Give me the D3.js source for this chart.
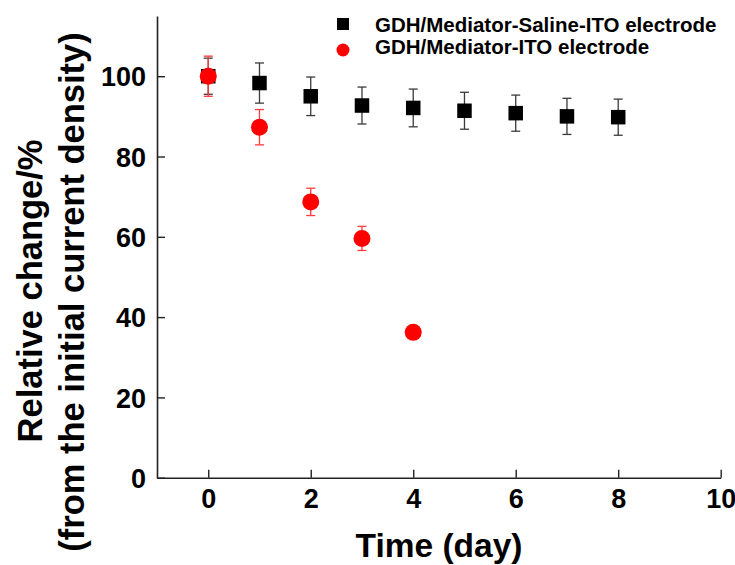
<!DOCTYPE html>
<html>
<head>
<meta charset="utf-8">
<script src="https://cdn.jsdelivr.net/npm/d3@7"></script>
<style>
  body { margin: 0; background: #fff; }
  svg text { font-family: "Liberation Sans", Arial, sans-serif; font-weight: bold; fill: #000; }
</style>
</head>
<body>
<div id="chart"></div>
<script>
// data
var salineDays = [0, 1, 2, 3, 4, 5, 6, 7, 8];
var salineValues = [100, 98.3, 95.0, 92.7, 92.1, 91.4, 90.8, 90.0, 89.8];
var salineErrors = [4.5, 5.0, 4.8, 4.6, 4.7, 4.6, 4.5, 4.5, 4.5];

var itoDays = [0, 1, 2, 3, 4];
var itoValues = [100, 87.3, 68.7, 59.6, 36.2];
var itoErrors = [5.0, 4.4, 3.4, 3.0, 1.0];

var xTicks = [0, 2, 4, 6, 8, 10];
var yTicks = [0, 20, 40, 60, 80, 100];

var legendLabels = ["GDH/Mediator-Saline-ITO electrode", "GDH/Mediator-ITO electrode"];

var width = 735, height = 565;
var margin = { left: 157, right: 14, top: 16, bottom: 88 };

var svg = d3.select("#chart").append("svg")
	.attr("width", width)
	.attr("height", height);

var x = d3.scaleLinear().domain([-1, 10]).range([margin.left, 720.7]);
var y = d3.scaleLinear().domain([0, 115]).range([height - margin.bottom + 0.7, margin.top]);

// axes
var xAxis = d3.axisBottom(x).tickValues(xTicks).tickSizeInner(-8).tickSizeOuter(0).tickPadding(0);
var yAxis = d3.axisLeft(y).tickValues(yTicks).tickSizeInner(-8).tickSizeOuter(0).tickPadding(0);

var gx = svg.append("g").attr("transform", "translate(0," + y(0) + ")").call(xAxis);
var gy = svg.append("g").attr("transform", "translate(" + x(-1) + ",0)").call(yAxis);

[gx, gy].forEach(function (g) {
	g.select(".domain").attr("stroke", "#222").attr("stroke-width", 1.6);
	g.selectAll(".tick line").attr("stroke", "#222").attr("stroke-width", 1.4);
	g.selectAll(".tick text").attr("font-size", 27).attr("fill", "#000");
});
gx.selectAll(".tick text").attr("y", 30.5).attr("dy", 0);
gy.selectAll(".tick text").attr("x", -11).attr("dy", "0.36em");

// axis titles
svg.append("text")
	.attr("x", 439).attr("y", 557)
	.attr("text-anchor", "middle")
	.attr("font-size", 33.5)
	.text("Time (day)");

svg.append("text")
	.attr("transform", "translate(42,291) rotate(-90)")
	.attr("text-anchor", "middle")
	.attr("font-size", 34.5)
	.text("Relative change/%");

svg.append("text")
	.attr("transform", "translate(84,292) rotate(-90)")
	.attr("text-anchor", "middle")
	.attr("font-size", 34.5)
	.text("(from the initial current density)");

// series
function drawErrors(days, values, errors, color) {
	var g = svg.append("g").attr("stroke", color).attr("stroke-width", 1.3);
	days.forEach(function (d, i) {
		var cx = x(d), lo = y(values[i] - errors[i]), hi = y(values[i] + errors[i]);
		g.append("line").attr("x1", cx).attr("x2", cx).attr("y1", lo).attr("y2", hi);
		g.append("line").attr("x1", cx - 4.5).attr("x2", cx + 4.5).attr("y1", lo).attr("y2", lo);
		g.append("line").attr("x1", cx - 4.5).attr("x2", cx + 4.5).attr("y1", hi).attr("y2", hi);
	});
}

var sq = 14.5;
drawErrors(salineDays, salineValues, salineErrors, "#3a3a3a");
svg.append("g").selectAll("rect")
	.data(salineDays)
	.join("rect")
	.attr("x", function (d) { return x(d) - sq / 2; })
	.attr("y", function (d, i) { return y(salineValues[i]) - sq / 2; })
	.attr("width", sq)
	.attr("height", sq)
	.attr("fill", "#000");

drawErrors(itoDays, itoValues, itoErrors, "#ff3b3b");
svg.append("g").selectAll("circle")
	.data(itoDays)
	.join("circle")
	.attr("cx", function (d) { return x(d); })
	.attr("cy", function (d, i) { return y(itoValues[i]); })
	.attr("r", 8.5)
	.attr("fill", "#ff0000");

// legend
var legend = svg.append("g");
legend.append("rect")
	.attr("x", 343 - 6).attr("y", 24 - 6)
	.attr("width", 12).attr("height", 12)
	.attr("fill", "#000");
legend.append("circle")
	.attr("cx", 343).attr("cy", 50).attr("r", 6.5)
	.attr("fill", "#ff0000");
legend.selectAll("text")
	.data(legendLabels)
	.join("text")
	.attr("x", 375)
	.attr("y", function (d, i) { return 31.5 + i * 22.5; })
	.attr("font-size", 20.5)
	.text(function (d) { return d; });
</script>
</body>
</html>
